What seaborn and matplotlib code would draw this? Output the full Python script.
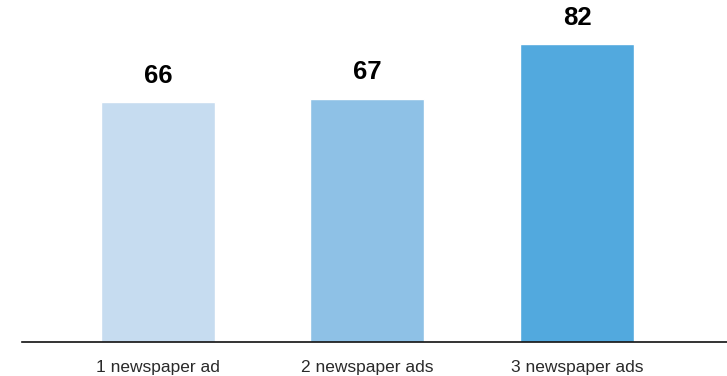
import matplotlib
matplotlib.use("Agg")
import matplotlib.pyplot as plt
import seaborn as sns
import pandas as pd

# Share of readers reached, by number of newspaper ads
categories = ["1 newspaper ad", "2 newspaper ads", "3 newspaper ads"]
values = [66, 67, 82]
bar_colors = ["#c6dcf0", "#8ec1e6", "#52a9de"]

df = pd.DataFrame({"ads": categories, "value": values})

sns.set_theme(style="white")
plt.rcParams["font.family"] = ["Liberation Sans", "DejaVu Sans"]

fig = plt.figure(figsize=(7.27, 3.76), dpi=100)
ax = fig.add_axes([22 / 727, 34 / 376, 705 / 727, 342 / 376])

sns.barplot(data=df, x="ads", y="value", hue="ads", palette=bar_colors,
            legend=False, width=0.544, saturation=1, ax=ax)

for patch, v in zip(ax.patches, values):
    ax.annotate(f"{v}", (patch.get_x() + patch.get_width() / 2, v),
                xytext=(0, 14), textcoords="offset points",
                ha="center", va="baseline", fontsize=18.5,
                fontweight="bold", color="#000000")

ax.set_xlim(-0.649, 2.716)
ax.set_ylim(0, 94.2)
ax.set_xlabel("")
ax.set_ylabel("")
ax.set_yticks([])
ax.tick_params(axis="x", length=0, pad=13, labelsize=12.5, labelcolor="#2a2a2a")
for side in ["top", "right", "left"]:
    ax.spines[side].set_visible(False)
ax.spines["bottom"].set_color("#111111")
ax.spines["bottom"].set_linewidth(1.2)

fig.savefig("out.png", dpi=100)
